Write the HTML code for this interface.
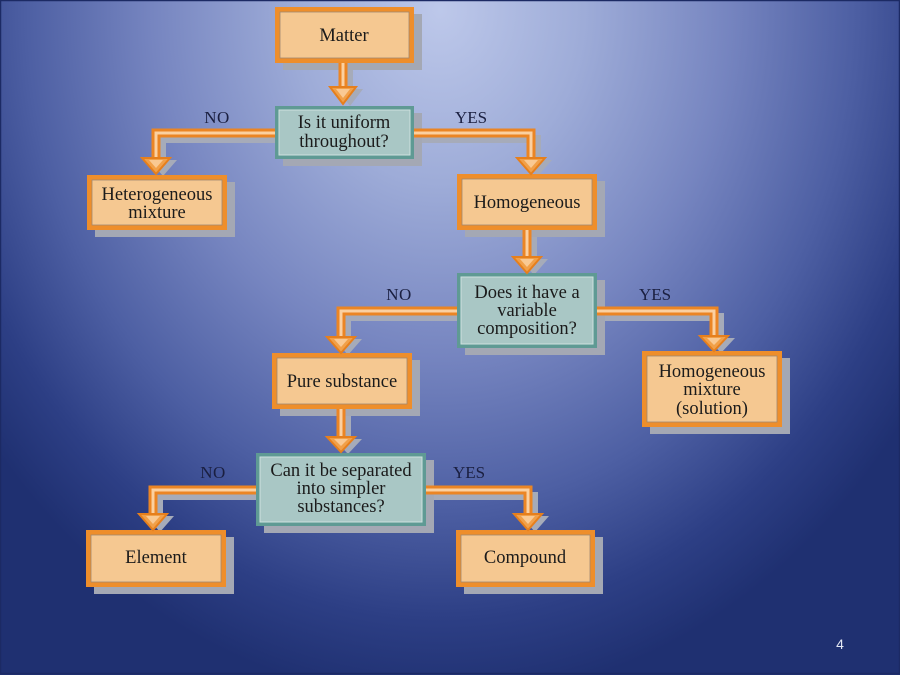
<!DOCTYPE html>
<html><head><meta charset="utf-8"><style>
html,body{margin:0;padding:0;}
body{width:900px;height:675px;overflow:hidden;}
svg{display:block;}
</style></head><body>
<svg width="900" height="675" viewBox="0 0 900 675" xmlns="http://www.w3.org/2000/svg">
<defs>
<radialGradient id="bg" gradientUnits="userSpaceOnUse" cx="440" cy="10" r="640" gradientTransform="translate(440 10) scale(0.9 1.08) translate(-440 -10)">
<stop offset="0" stop-color="#bdc8ea"/>
<stop offset="0.25" stop-color="#9eacd8"/>
<stop offset="0.5" stop-color="#7685c0"/>
<stop offset="0.72" stop-color="#4d5fa3"/>
<stop offset="0.88" stop-color="#2d3f85"/>
<stop offset="1" stop-color="#1f3071"/>
</radialGradient>
</defs>
<rect width="900" height="675" fill="url(#bg)"/>
<rect x="0.5" y="0.5" width="899" height="673" fill="none" stroke="#1c2a64" stroke-width="1.5"/>

<!-- connector shadows -->
<g fill="none" stroke="#a6abb9" stroke-width="8" transform="translate(6 6)">
<path d="M343,63 V88"/>
<path d="M275,133 H156 V158"/>
<path d="M414,133 H531 V158"/>
<path d="M527,230 V257"/>
<path d="M457,311 H341 V337"/>
<path d="M597,311 H714 V336"/>
<path d="M341,409 V437"/>
<path d="M256,490 H153 V514"/>
<path d="M426,490 H528 V514"/>
</g>
<g fill="#a6abb9" transform="translate(7 2)">
<polygon points="330,87 356,87 343,104"/>
<polygon points="142,158 170,158 156,174"/>
<polygon points="517,158 545,158 531,174"/>
<polygon points="513,257 541,257 527,273"/>
<polygon points="327,337 355,337 341,353"/>
<polygon points="700,336 728,336 714,351"/>
<polygon points="327,437 355,437 341,452"/>
<polygon points="139,514 167,514 153,530"/>
<polygon points="514,514 542,514 528,530"/>
</g>

<!-- box shadows -->
<g fill="#a4a8b4">
<rect x="283" y="14" width="139" height="56"/>
<rect x="283" y="113" width="139" height="53"/>
<rect x="95" y="182" width="140" height="55"/>
<rect x="465" y="181" width="140" height="56"/>
<rect x="465" y="280" width="140" height="75"/>
<rect x="650" y="358" width="140" height="76"/>
<rect x="280" y="360" width="140" height="56"/>
<rect x="264" y="460" width="170" height="73"/>
<rect x="94" y="537" width="140" height="57"/>
<rect x="464" y="537" width="139" height="57"/>
</g>

<!-- orange boxes -->
<g>
<rect x="275" y="7" width="139" height="56" fill="#ee8e2b"/>
<rect x="280" y="12" width="129" height="46" fill="#f5c891" stroke="#a08870" stroke-width="0.8"/>

<rect x="87" y="175" width="140" height="55" fill="#ee8e2b"/>
<rect x="92" y="180" width="130" height="45" fill="#f5c891" stroke="#a08870" stroke-width="0.8"/>

<rect x="457" y="174" width="140" height="56" fill="#ee8e2b"/>
<rect x="462" y="179" width="130" height="46" fill="#f5c891" stroke="#a08870" stroke-width="0.8"/>

<rect x="642" y="351" width="140" height="76" fill="#ee8e2b"/>
<rect x="647" y="356" width="130" height="66" fill="#f5c891" stroke="#a08870" stroke-width="0.8"/>

<rect x="272" y="353" width="140" height="56" fill="#ee8e2b"/>
<rect x="277" y="358" width="130" height="46" fill="#f5c891" stroke="#a08870" stroke-width="0.8"/>

<rect x="86" y="530" width="140" height="57" fill="#ee8e2b"/>
<rect x="91" y="535" width="130" height="47" fill="#f5c891" stroke="#a08870" stroke-width="0.8"/>

<rect x="456" y="530" width="139" height="57" fill="#ee8e2b"/>
<rect x="461" y="535" width="129" height="47" fill="#f5c891" stroke="#a08870" stroke-width="0.8"/>
</g>

<!-- teal boxes -->
<g>
<rect x="275" y="106" width="139" height="53" fill="#5f9a94"/>
<rect x="279" y="110" width="131" height="45" fill="#a9c7c5" stroke="#cfe1df" stroke-width="1"/>

<rect x="457" y="273" width="140" height="75" fill="#5f9a94"/>
<rect x="461" y="277" width="132" height="67" fill="#a9c7c5" stroke="#cfe1df" stroke-width="1"/>

<rect x="256" y="453" width="170" height="73" fill="#5f9a94"/>
<rect x="260" y="457" width="162" height="65" fill="#a9c7c5" stroke="#cfe1df" stroke-width="1"/>
</g>

<!-- connectors -->
<g fill="none" stroke="#eb8524" stroke-width="9" stroke-linejoin="miter">
<path d="M343,63 V88"/>
<path d="M275,133 H156 V158"/>
<path d="M414,133 H531 V158"/>
<path d="M527,230 V257"/>
<path d="M457,311 H341 V337"/>
<path d="M597,311 H714 V336"/>
<path d="M341,409 V437"/>
<path d="M256,490 H153 V514"/>
<path d="M426,490 H528 V514"/>
</g>
<g fill="none" stroke="#fbd0a0" stroke-width="3" stroke-linejoin="miter">
<path d="M343,63 V89"/>
<path d="M275,133 H156 V159"/>
<path d="M414,133 H531 V159"/>
<path d="M527,230 V258"/>
<path d="M457,311 H341 V338"/>
<path d="M597,311 H714 V337"/>
<path d="M341,409 V438"/>
<path d="M256,490 H153 V515"/>
<path d="M426,490 H528 V515"/>
</g>
<g fill="#f1a049" stroke="#e67f1c" stroke-width="2" stroke-linejoin="miter">
<polygon points="330,87 356,87 343,104"/>
<polygon points="142,158 170,158 156,174"/>
<polygon points="517,158 545,158 531,174"/>
<polygon points="513,257 541,257 527,273"/>
<polygon points="327,337 355,337 341,353"/>
<polygon points="700,336 728,336 714,351"/>
<polygon points="327,437 355,437 341,452"/>
<polygon points="139,514 167,514 153,530"/>
<polygon points="514,514 542,514 528,530"/>
</g>
<g fill="#f9c993">
<polygon points="336,89 350,89 343,98"/>
<polygon points="149,160 163,160 156,168"/>
<polygon points="524,160 538,160 531,168"/>
<polygon points="520,259 534,259 527,267"/>
<polygon points="334,339 348,339 341,347"/>
<polygon points="707,338 721,338 714,345"/>
<polygon points="334,439 348,439 341,446"/>
<polygon points="146,516 160,516 153,524"/>
<polygon points="521,516 535,516 528,524"/>
</g>

<!-- box text -->
<g font-family="'Liberation Serif', serif" font-size="18.5" fill="#1b1b1b" text-anchor="middle">
<text x="344" y="41">Matter</text>
<text x="344" y="128">Is it uniform</text>
<text x="344" y="147">throughout?</text>
<text x="157" y="200">Heterogeneous</text>
<text x="157" y="218">mixture</text>
<text x="527" y="208">Homogeneous</text>
<text x="527" y="298">Does it have a</text>
<text x="527" y="316">variable</text>
<text x="527" y="334">composition?</text>
<text x="712" y="377">Homogeneous</text>
<text x="712" y="395">mixture</text>
<text x="712" y="414">(solution)</text>
<text x="342" y="387">Pure substance</text>
<text x="341" y="476">Can it be separated</text>
<text x="341" y="494">into simpler</text>
<text x="341" y="512">substances?</text>
<text x="156" y="563">Element</text>
<text x="525" y="563">Compound</text>
</g>

<!-- labels -->
<g font-family="'Liberation Serif', serif" font-size="17" fill="#1a1f40" text-anchor="middle">
<text x="217" y="123" letter-spacing="0.5">NO</text>
<text x="471" y="123">YES</text>
<text x="399" y="300" letter-spacing="0.5">NO</text>
<text x="655" y="300">YES</text>
<text x="213" y="478" letter-spacing="0.5">NO</text>
<text x="469" y="478">YES</text>
</g>

<text x="840" y="649" font-family="'Liberation Sans', sans-serif" font-size="14" fill="#e4e8f4" text-anchor="middle">4</text>
</svg>
</body></html>
